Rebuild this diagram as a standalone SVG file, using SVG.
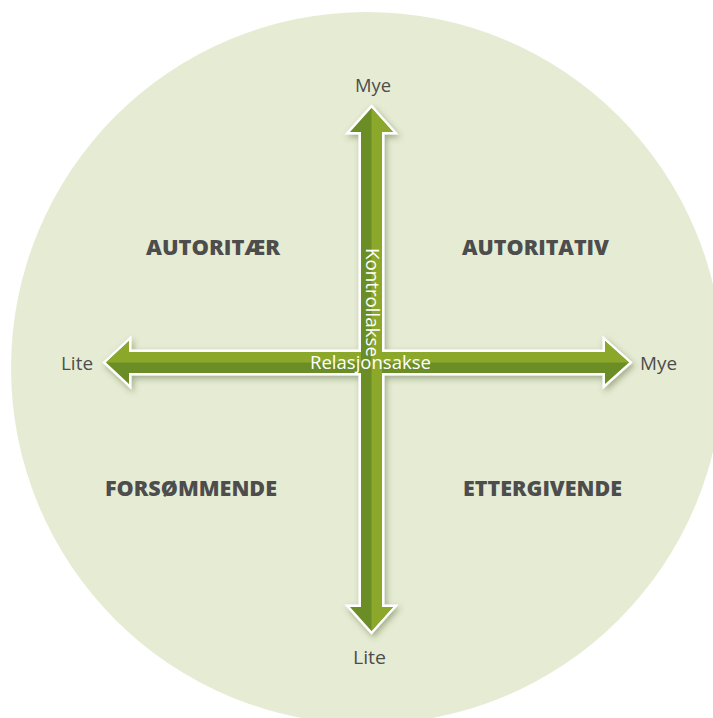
<svg xmlns="http://www.w3.org/2000/svg" width="713" height="718" viewBox="0 0 713 718">
  <defs>
    <filter id="shadow" x="-10%" y="-10%" width="120%" height="120%">
      <feDropShadow dx="2" dy="3" stdDeviation="3" flood-color="#3a4a1a" flood-opacity="0.4"/>
    </filter>
    <style>
      .lbl { font-family: "Open Sans", "Liberation Sans", sans-serif; font-size: 19px; fill: #4d4d4d; text-anchor: middle; }
      .quad { font-family: "Open Sans", "Liberation Sans", sans-serif; font-size: 20.5px; font-weight: 800; fill: #4d4d4d; text-anchor: middle; }
      .axis { font-family: "Open Sans", "Liberation Sans", sans-serif; font-size: 18px; fill: #ffffff; text-anchor: middle; }
      .outline { fill: #ffffff; stroke: #ffffff; stroke-width: 5; stroke-linejoin: miter; }
      .dark { fill: #6a8d25; }
      .light { fill: #8ca82b; }
    </style>
  </defs>

  <g id="background">
    <circle cx="367" cy="368" r="356" fill="#e6ecd4"/>
  </g>

  <g id="connectors">
    <g filter="url(#shadow)">
      <polygon class="outline" points="106,362.5 129,341 129,352 605,352 605,341 629,362.5 605,384 605,373 129,373 129,384"/>
      <polygon class="outline" points="371.5,108 393,132 382,132 382,607 393,607 371.5,631 350,607 361,607 361,132 350,132"/>
    </g>
    <g id="horizontal-axis">
      <polygon class="dark" points="106,362.5 129,341 129,352 605,352 605,341 629,362.5 605,384 605,373 129,373 129,384"/>
      <polygon class="light" points="106,362.5 129,341 129,352 605,352 605,341 629,362.5"/>
    </g>
    <g id="vertical-axis">
      <polygon class="dark" points="371.5,108 393,132 382,132 382,607 393,607 371.5,631 350,607 361,607 361,132 350,132"/>
      <polygon class="light" points="371.5,108 393,132 382,132 382,607 393,607 371.5,631"/>
    </g>
    <text class="axis" transform="translate(365.5,302.5) rotate(90)" textLength="109" lengthAdjust="spacingAndGlyphs">Kontrollakse</text>
    <text class="axis" x="370.5" y="368.5" textLength="121" lengthAdjust="spacingAndGlyphs">Relasjonsakse</text>
  </g>

  <g id="label-top"><text class="lbl" x="373" y="92" textLength="36" lengthAdjust="spacingAndGlyphs">Mye</text></g>
  <g id="label-bottom"><text class="lbl" x="369.5" y="664" textLength="33" lengthAdjust="spacingAndGlyphs">Lite</text></g>
  <g id="label-left"><text class="lbl" x="77" y="369.5" textLength="32" lengthAdjust="spacingAndGlyphs">Lite</text></g>
  <g id="label-right"><text class="lbl" x="658.5" y="369.5" textLength="37" lengthAdjust="spacingAndGlyphs">Mye</text></g>

  <g id="autoritaer"><text class="quad" x="213" y="254.5" textLength="134" lengthAdjust="spacingAndGlyphs">AUTORITÆR</text></g>
  <g id="autoritativ"><text class="quad" x="535.5" y="254.5" textLength="147" lengthAdjust="spacingAndGlyphs">AUTORITATIV</text></g>
  <g id="forsommende"><text class="quad" x="191" y="496" textLength="172" lengthAdjust="spacingAndGlyphs">FORSØMMENDE</text></g>
  <g id="ettergivende"><text class="quad" x="542.5" y="495.5" textLength="159" lengthAdjust="spacingAndGlyphs">ETTERGIVENDE</text></g>
</svg>
